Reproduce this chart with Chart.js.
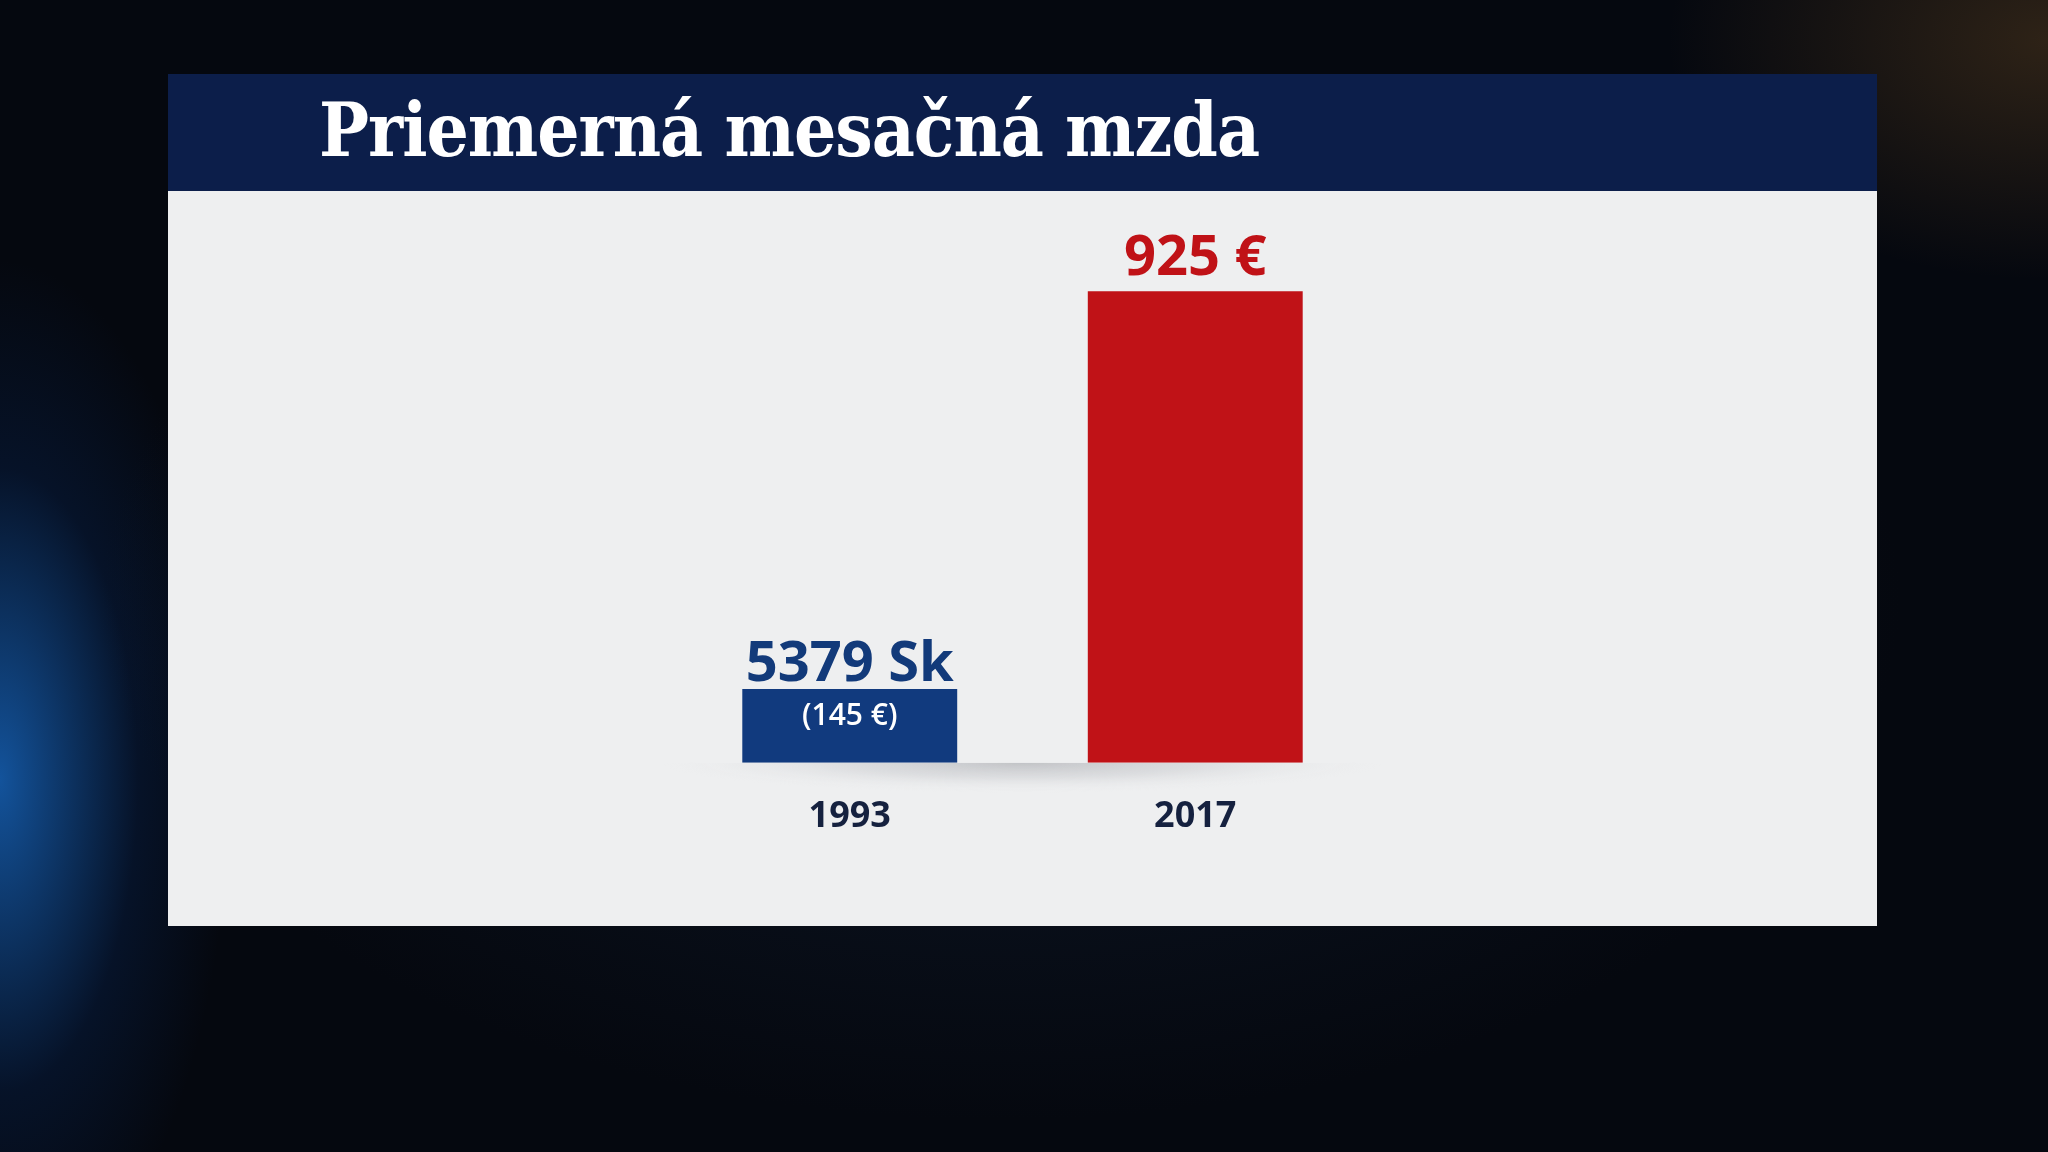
<!DOCTYPE html>
<html lang="sk">

<head>
    <meta charset="UTF-8">
    <meta name="viewport" content="width=device-width, initial-scale=1.0">
    <script src="https://cdn.jsdelivr.net/npm/chart.js@4.4.1/dist/chart.umd.min.js"></script>
    <title>Priemerná mesačná mzda</title>
    <style>
        html, body {
            margin: 0;
            padding: 0;
            width: 2048px;
            height: 1152px;
            overflow: hidden;
        }

        body {
            position: relative;
            background:
                radial-gradient(ellipse 230px 520px at 0px 780px, rgba(25, 115, 215, 0.7), rgba(10, 60, 140, 0.2) 60%, rgba(0, 0, 0, 0) 100%),
                radial-gradient(ellipse 380px 240px at 2048px 40px, rgba(140, 95, 40, 0.3), rgba(0, 0, 0, 0) 100%),
                radial-gradient(ellipse 900px 520px at 1000px 600px, #0e1828, #05080f 100%);
            background-color: #05080f;
        }

        .panel {
            position: absolute;
            left: 168px;
            top: 191px;
            width: 1709px;
            height: 735px;
            background: #eeeff0;
        }

        .header {
            position: absolute;
            left: 168px;
            top: 74px;
            width: 1709px;
            height: 117px;
            background: #0c1e4a;
        }

        .header h1 {
            position: absolute;
            left: 151px;
            top: 50%;
            margin: 0;
            transform: translateY(-54%);
            color: #ffffff;
            font-family: "DejaVu Serif", serif;
            font-stretch: condensed;
            font-weight: bold;
            font-size: 74px;
            letter-spacing: -1px;
            white-space: nowrap;
        }

        #chart {
            position: absolute;
            left: 0;
            top: 0;
        }
    </style>
</head>

<body>
    <div class="header">
        <h1>Priemerná mesačná mzda</h1>
    </div>
    <div class="panel"></div>
    <canvas id="chart" width="2048" height="1152"></canvas>

    <script>
        const years = ['1993', '2017'];
        const wageEur = [145, 925];
        const topLabels = ['5379 Sk', '925 €'];
        const innerLabels = ['(145 €)', ''];
        const barColors = ['#113a7e', '#c01217'];
        const topLabelColors = ['#123a7a', '#c01217'];

        // soft floor shadow under the bars
        const floorShadow = {
            id: 'floorShadow',
            beforeDatasetsDraw(chart) {
                const ctx = chart.ctx;
                const x = chart.scales.x;
                const y0 = chart.scales.y.getPixelForValue(0);
                const cx = (x.getPixelForValue(0) + x.getPixelForValue(1)) / 2;
                const rx = 360, ry = 30;
                ctx.save();
                ctx.beginPath();
                ctx.rect(cx - rx, y0, rx * 2, ry + 10);
                ctx.clip();
                ctx.translate(cx, y0);
                ctx.scale(rx / ry, 1);
                const g = ctx.createRadialGradient(0, 0, 0, 0, 0, ry);
                g.addColorStop(0, 'rgba(140,142,148,0.45)');
                g.addColorStop(0.5, 'rgba(170,172,178,0.25)');
                g.addColorStop(1, 'rgba(238,239,240,0)');
                ctx.fillStyle = g;
                ctx.fillRect(-ry, 0, ry * 2, ry);
                ctx.restore();
            }
        };

        const barLabels = {
            id: 'barLabels',
            afterDatasetsDraw(chart) {
                const ctx = chart.ctx;
                const meta = chart.getDatasetMeta(0);
                ctx.save();
                ctx.textAlign = 'center';
                meta.data.forEach((bar, i) => {
                    ctx.fillStyle = topLabelColors[i];
                    ctx.font = 'bold 56px "Open Sans", sans-serif';
                    ctx.textBaseline = 'alphabetic';
                    ctx.fillText(topLabels[i], bar.x, bar.y - (i === 0 ? 8 : 16));
                    if (innerLabels[i]) {
                        ctx.fillStyle = '#ffffff';
                        ctx.font = '600 30px "Open Sans", sans-serif';
                        ctx.textBaseline = 'middle';
                        ctx.fillText(innerLabels[i], bar.x, bar.y + 28);
                    }
                });
                ctx.restore();
            }
        };

        new Chart(document.getElementById('chart').getContext('2d'), {
            type: 'bar',
            data: {
                labels: years,
                datasets: [{
                    data: wageEur,
                    backgroundColor: barColors,
                    borderWidth: 0,
                    categoryPercentage: 1,
                    barPercentage: 0.622
                }]
            },
            options: {
                responsive: false,
                animation: false,
                layout: {
                    padding: { left: 677, right: 680, top: 253, bottom: 282 }
                },
                plugins: {
                    legend: { display: false },
                    tooltip: { enabled: false }
                },
                scales: {
                    x: {
                        grid: { display: false, drawTicks: false },
                        border: { display: false },
                        ticks: {
                            color: '#15213f',
                            padding: 32,
                            font: { family: '"Open Sans", sans-serif', size: 36, weight: 'bold' }
                        }
                    },
                    y: {
                        display: false,
                        min: 0,
                        max: 1000
                    }
                }
            },
            plugins: [floorShadow, barLabels]
        });
    </script>
</body>

</html>
